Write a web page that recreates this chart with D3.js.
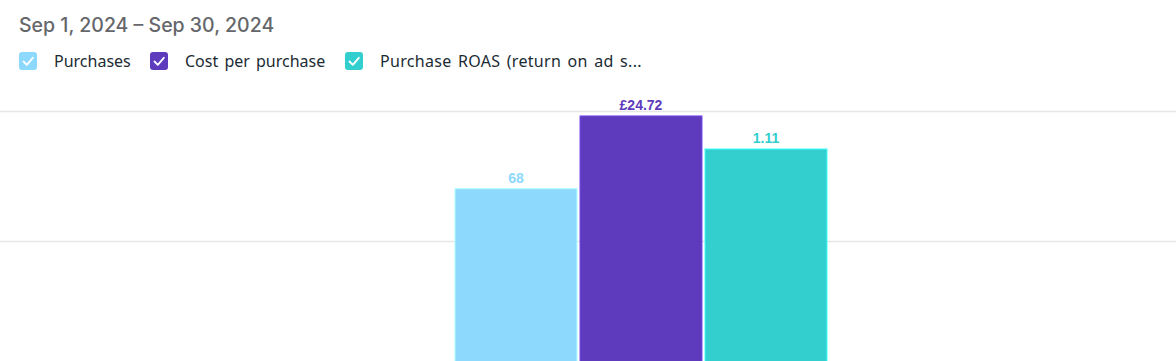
<!DOCTYPE html>
<html>
<head>
<meta charset="utf-8">
<script src="https://cdn.jsdelivr.net/npm/d3@7"></script>
<style>
  html, body { margin: 0; padding: 0; background: #fff; overflow: hidden; }
  svg { display: block; }
</style>
</head>
<body>
<svg id="chart" width="1176" height="361"></svg>
<script>
const dateRange = "Sep 1, 2024 \u2013 Sep 30, 2024";
const seriesNames = ["Purchases", "Cost per purchase", "Purchase ROAS (return on ad s..."];
const seriesValues = [68, 24.72, 1.11];
const seriesLabels = ["68", "\u00a324.72", "1.11"];
const seriesColors = ["#8dd9fd", "#5e3bbd", "#33cece"];
const seriesDomainMax = [97, 25.2, 1.3];

const svg = d3.select("#chart");

// Header
svg.append("text")
  .attr("x", 19).attr("y", 32)
  .attr("font-family", "Inter, 'Open Sans', sans-serif")
  .attr("font-size", 19.5).attr("font-weight", 500)
  .attr("fill", "#65676b")
  .text(dateRange);

// Legend
const legendX = [19, 150, 345];
const legend = svg.append("g");
seriesNames.forEach((name, i) => {
  const g = legend.append("g").attr("transform", `translate(${legendX[i]},52)`);
  g.append("rect").attr("width", 18).attr("height", 18).attr("rx", 3)
    .attr("fill", seriesColors[i]);
  g.append("path").attr("d", "M4.5,9.5 L7.8,12.8 L13.8,5.8")
    .attr("fill", "none").attr("stroke", "#fff").attr("stroke-width", 1.8)
    .attr("stroke-linecap", "round").attr("stroke-linejoin", "round");
  g.append("text").attr("x", 35).attr("y", 15)
    .attr("font-family", "'Noto Sans', 'Open Sans', sans-serif")
    .attr("font-size", 16).attr("fill", "#1c2b33")
    .attr("word-spacing", 2).attr("letter-spacing", i === 2 ? 0.3 : 0)
    .text(name);
});

// Plot
const baseY = 371, topY = 111;
const gridScale = d3.scaleLinear().domain([0, 2]).range([baseY, topY]);
svg.append("g").selectAll("line").data([1, 2]).join("line")
  .attr("x1", 0).attr("x2", 1176)
  .attr("y1", d => gridScale(d) + 0.5).attr("y2", d => gridScale(d) + 0.5)
  .attr("stroke", "#e6e6e6").attr("stroke-width", 1.5);

const x = d3.scaleBand().domain(seriesNames).range([455, 827]).paddingInner(0.0242);
const yScales = seriesDomainMax.map(m => d3.scaleLinear().domain([0, m]).range([baseY, topY]));

const bars = svg.append("g");
seriesNames.forEach((name, i) => {
  const y = yScales[i];
  bars.append("rect")
    .attr("x", x(name)).attr("y", y(seriesValues[i]))
    .attr("width", x.bandwidth()).attr("height", baseY - y(seriesValues[i]))
    .attr("fill", seriesColors[i])
    .attr("stroke", d3.color(seriesColors[i]).brighter(0.6)).attr("stroke-width", 1);
  bars.append("text")
    .attr("x", x(name) + x.bandwidth() / 2).attr("y", y(seriesValues[i]) - 6)
    .attr("text-anchor", "middle")
    .attr("font-family", "Arial, 'Liberation Sans', sans-serif")
    .attr("font-size", 14).attr("font-weight", "bold")
    .attr("fill", seriesColors[i])
    .text(seriesLabels[i]);
});
</script>
</body>
</html>
